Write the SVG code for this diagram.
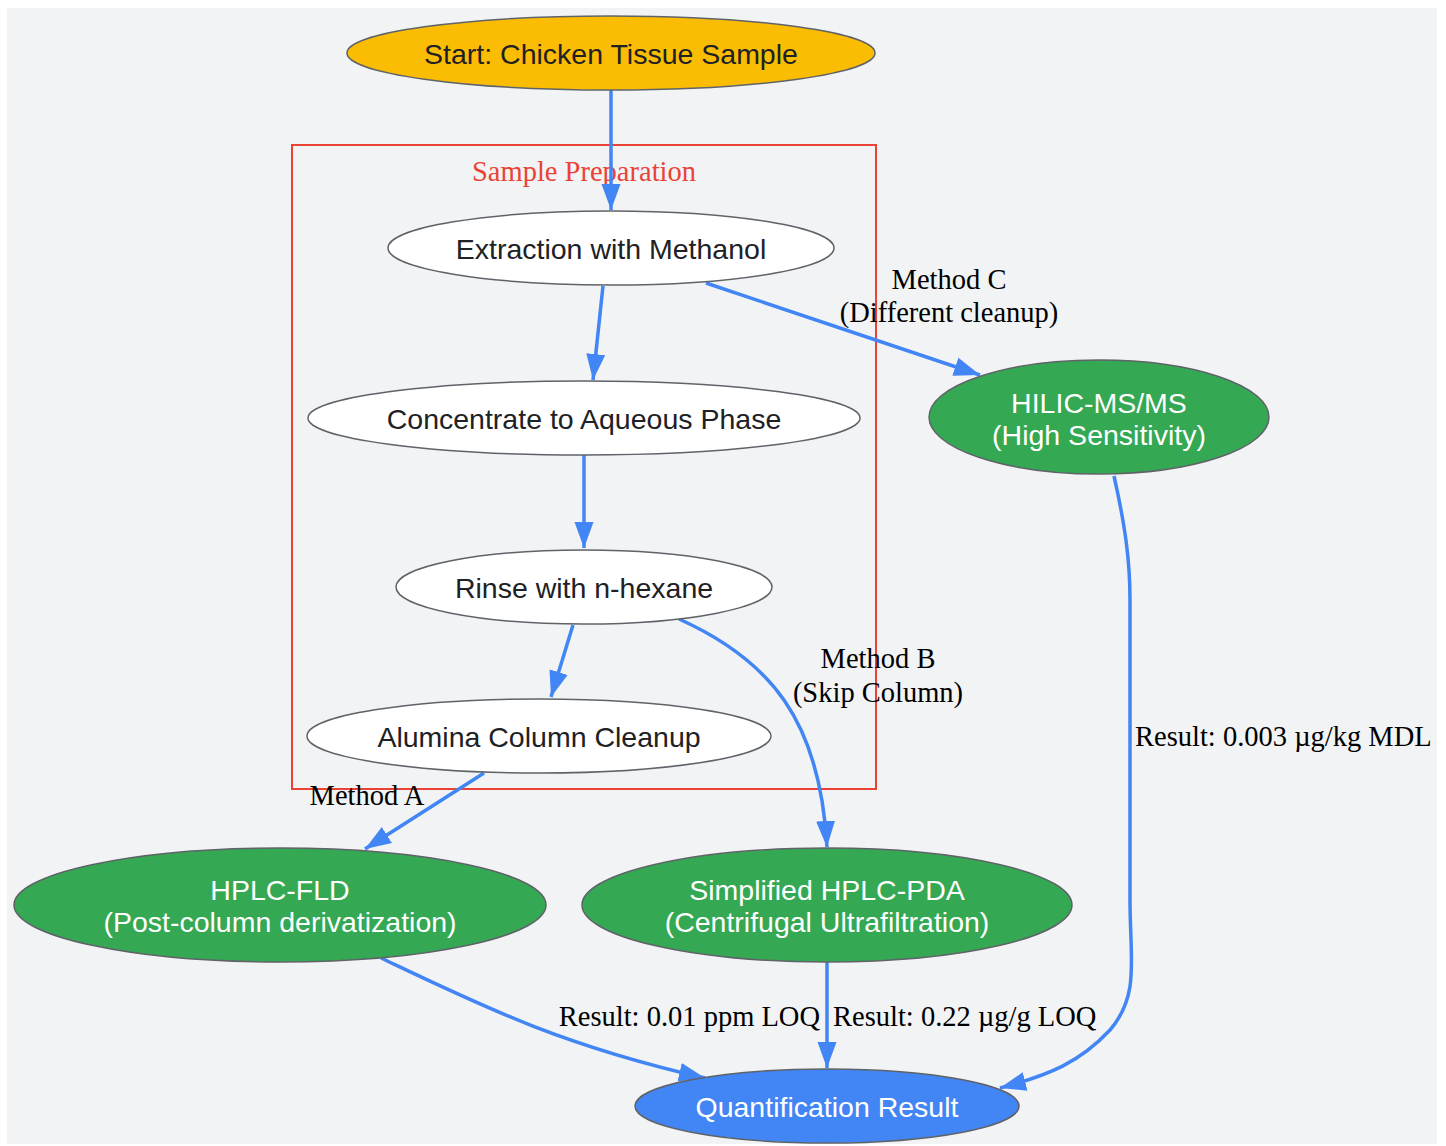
<svg xmlns="http://www.w3.org/2000/svg" width="1446" height="1146" viewBox="0 0 1446 1146">
<style>
.n{stroke:#5f6368;stroke-width:1.5}
.t{font-family:"Liberation Sans",Arial,sans-serif;font-size:28.5px;text-anchor:middle;fill:#202124}
.w{fill:#ffffff}
.e{fill:none;stroke:#4285f4;stroke-width:3.5}
.l{font-family:"Liberation Serif","Times New Roman",serif;font-size:28.5px;fill:#000000}
</style>
<defs>
<marker id="ah" markerUnits="userSpaceOnUse" markerWidth="30" markerHeight="30" viewBox="0 0 30 30" refX="26" refY="15" orient="auto">
<path d="M0,5.5 L26,15 L0,24.5 Z" fill="#4285f4"/>
</marker>
</defs>
<rect x="7" y="8" width="1430" height="1136" fill="#f1f3f5"/>
<g id="cluster">
<rect x="292" y="145" width="584" height="644" fill="none" stroke="#ea4335" stroke-width="2"/>
<text x="584" y="181" class="l" style="fill:#ea4335;text-anchor:middle">Sample Preparation</text>
</g>
<g id="connectors">
<path class="e" d="M611,90 L611,210" marker-end="url(#ah)"/>
<path class="e" d="M603,286 L593,380" marker-end="url(#ah)"/>
<path class="e" d="M706,283 L980,375" marker-end="url(#ah)"/>
<path class="e" d="M584,455 L584,548" marker-end="url(#ah)"/>
<path class="e" d="M573,625 L551,697" marker-end="url(#ah)"/>
<path class="e" d="M679,619 C770,660 820,720 827,847" marker-end="url(#ah)"/>
<path class="e" d="M484,773 L365,849" marker-end="url(#ah)"/>
<path class="e" d="M1114,476 C1125,525 1130,560 1130,600 L1130,900 C1130,960 1140,995 1110,1030 C1080,1062 1050,1075 1000,1088" marker-end="url(#ah)"/>
<path class="e" d="M381,958 C480,1005 560,1045 705,1078" marker-end="url(#ah)"/>
<path class="e" d="M827,962 L827,1068" marker-end="url(#ah)"/>
<text class="l" x="949" y="289" text-anchor="middle">Method C</text>
<text class="l" x="949" y="322" text-anchor="middle">(Different cleanup)</text>
<text class="l" x="878" y="668" text-anchor="middle">Method B</text>
<text class="l" x="878" y="702" text-anchor="middle">(Skip Column)</text>
<text class="l" x="367" y="805" text-anchor="middle">Method A</text>
<text class="l" x="1135" y="746">Result: 0.003 µg/kg MDL</text>
<text class="l" x="820" y="1026" text-anchor="end">Result: 0.01 ppm LOQ</text>
<text class="l" x="833" y="1026">Result: 0.22 µg/g LOQ</text>
</g>
<g id="start">
<ellipse class="n" cx="611" cy="53" rx="264" ry="37" fill="#fbbc04"/>
<text class="t" x="611" y="64">Start: Chicken Tissue Sample</text>
</g>
<g id="extraction">
<ellipse class="n" cx="611" cy="248" rx="223" ry="37" fill="#ffffff"/>
<text class="t" x="611" y="259">Extraction with Methanol</text>
</g>
<g id="concentrate">
<ellipse class="n" cx="584" cy="418" rx="276" ry="37" fill="#ffffff"/>
<text class="t" x="584" y="429">Concentrate to Aqueous Phase</text>
</g>
<g id="rinse">
<ellipse class="n" cx="584" cy="587" rx="188" ry="37" fill="#ffffff"/>
<text class="t" x="584" y="598">Rinse with n-hexane</text>
</g>
<g id="alumina">
<ellipse class="n" cx="539" cy="736" rx="232" ry="37" fill="#ffffff"/>
<text class="t" x="539" y="747">Alumina Column Cleanup</text>
</g>
<g id="hilic">
<ellipse class="n" cx="1099" cy="417" rx="170" ry="57" fill="#34a853"/>
<text class="t w" x="1099" y="413">HILIC-MS/MS</text>
<text class="t w" x="1099" y="445">(High Sensitivity)</text>
</g>
<g id="hplcfld">
<ellipse class="n" cx="280" cy="905" rx="266" ry="57" fill="#34a853"/>
<text class="t w" x="280" y="900">HPLC-FLD</text>
<text class="t w" x="280" y="932">(Post-column derivatization)</text>
</g>
<g id="hplcpda">
<ellipse class="n" cx="827" cy="905" rx="245" ry="57" fill="#34a853"/>
<text class="t w" x="827" y="900">Simplified HPLC-PDA</text>
<text class="t w" x="827" y="932">(Centrifugal Ultrafiltration)</text>
</g>
<g id="result">
<ellipse class="n" cx="827" cy="1106" rx="192" ry="37" fill="#4285f4"/>
<text class="t w" x="827" y="1117">Quantification Result</text>
</g>
</svg>
